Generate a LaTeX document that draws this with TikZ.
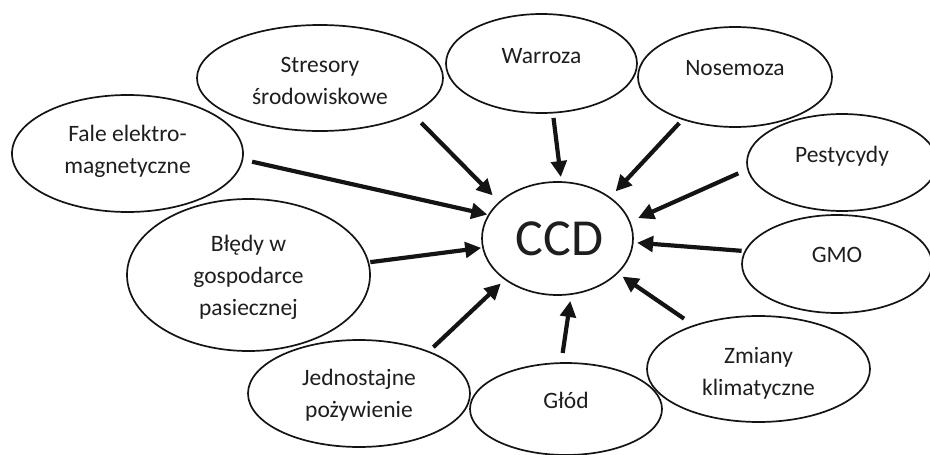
\documentclass[tikz,border=0pt]{standalone}
\usepackage{fontspec}
\setmainfont{Carlito}
\usetikzlibrary{shapes.geometric,arrows.meta}
\newcommand\sq{\rule[-13pt]{0pt}{32pt}}
\definecolor{txtc}{RGB}{30,30,30}
\definecolor{linec}{RGB}{20,20,20}
\tikzset{
  ell/.style={ellipse, draw=linec, line width=1.7pt, inner sep=0pt, outer sep=0pt},
  lab/.style={font=\fontsize{23.5}{32}\selectfont, text=txtc, align=center, inner sep=0pt},
  arr/.style={draw=linec, line width=4.2pt, -{Triangle[length=16pt,width=15.5pt]}}
}
\begin{document}
\begin{tikzpicture}[x=1pt,y=-1pt]
\fill[white] (0,0) rectangle (930,455);
\useasboundingbox (0,0) rectangle (930,455);

\node[ell, minimum width=151pt, minimum height=113pt,
  label={[font=\fontsize{52}{60}\selectfont, text=txtc, inner sep=0pt, xshift=2pt]center:CCD}] (ccd) at (557.5,238.5) {};

\node[ell, minimum width=246pt, minimum height=106pt,
  label={[lab, yshift=-7pt]center:{\sq Stresory\\\sq środowiskowe}}] (str) at (320,78) {};
\node[ell, minimum width=191pt, minimum height=99pt,
  label={[lab, yshift=3.5pt]center:{\sq Warroza}}] (war) at (541.5,63.5) {};
\node[ell, minimum width=194pt, minimum height=100pt,
  label={[lab, yshift=5pt]center:{\sq Nosemoza}}] (nos) at (735,77) {};
\node[ell, minimum width=190pt, minimum height=97pt,
  label={[lab, yshift=3.5pt]center:{\sq Pestycydy}}] (pes) at (842,162.5) {};
\node[ell, minimum width=190pt, minimum height=98pt,
  label={[lab, yshift=5pt]center:{\sq GMO}}] (gmo) at (837,264) {};
\node[ell, minimum width=223pt, minimum height=106pt,
  label={[lab, yshift=-7.5pt]center:{\sq Zmiany\\\sq klimatyczne}}] (zmi) at (758.5,369) {};
\node[ell, minimum width=192pt, minimum height=92pt,
  label={[lab, yshift=4pt]center:{\sq Głód}}] (glo) at (566,409) {};
\node[ell, minimum width=222pt, minimum height=107pt,
  label={[lab, yshift=-5pt]center:{\sq Jednostajne\\\sq pożywienie}}] (jed) at (359,393.5) {};
\node[ell, minimum width=243pt, minimum height=152pt,
  label={[lab, yshift=-5pt]center:{\sq Błędy w\\\sq gospodarce\\\sq pasiecznej}}] (ble) at (248.5,275) {};
\node[ell, minimum width=231pt, minimum height=117pt,
  label={[lab, yshift=-1pt]center:{\sq Fale elektro-\\\sq magnetyczne}}] (fal) at (127.5,153.5) {};

\draw[arr, shorten <=10pt, shorten >=1.65pt] (fal.-3.64) -- (ccd.161.4);
\draw[arr, shorten <=13.45pt, shorten >=9.7pt] (str.-21.1) -- (ccd.148.8);
\draw[arr, shorten <=5.35pt, shorten >=5.05pt] (war.-77.54) -- (ccd.86.87);
\draw[arr, shorten <=5.35pt, shorten >=8.6pt] (nos.-141.18) -- (ccd.38.63);
\draw[arr, shorten <=10.5pt, shorten >=9.2pt] (pes.-176.9) -- (ccd.13.0);
\draw[arr, shorten <=3.75pt, shorten >=4.3pt] (gmo.172.77) -- (ccd.-3.93);
\draw[arr, shorten <=12.4pt, shorten >=6.27pt] (zmi.146.65) -- (ccd.-30.49);
\draw[arr, shorten <=10.2pt, shorten >=7pt] (glo.96.9) -- (ccd.-76.29);
\draw[arr, shorten <=6.75pt, shorten >=6.2pt] (jed.31.19) -- (ccd.-142.82);
\draw[arr, shorten <=2pt, shorten >=1.8pt] (ble.6.56) -- (ccd.-173.68);
\end{tikzpicture}
\end{document}
